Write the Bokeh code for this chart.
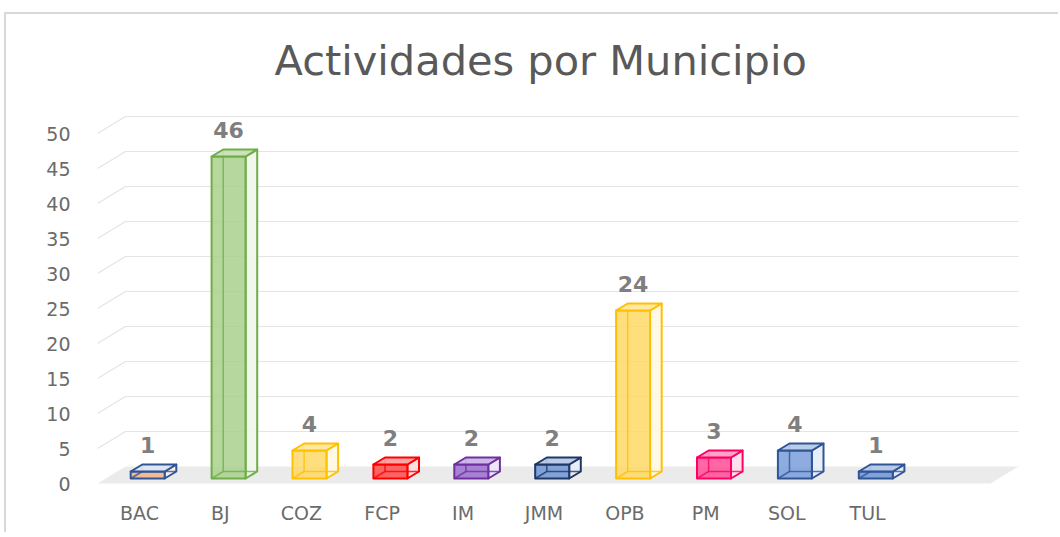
from bokeh.plotting import figure
from bokeh.models import FixedTicker, ColumnDataSource
from bokeh.embed import file_html
from bokeh.resources import INLINE
from bokeh.core.properties import value

# ---------------- data ----------------
title_text = "Actividades por Municipio"
categories = ["BAC", "BJ", "COZ", "FCP", "IM", "JMM", "OPB", "PM", "SOL", "TUL"]
counts = [1, 46, 4, 2, 2, 2, 24, 3, 4, 1]
y_ticks = [0, 5, 10, 15, 20, 25, 30, 35, 40, 45, 50]
fill_colors = ["#f4b183", "#a9d18e", "#ffd966", "#ff4b4b", "#9b6fcf",
               "#6f94d6", "#ffd966", "#ff4d94", "#7b9ddc", "#6f94d6"]
edge_colors = ["#2f5597", "#70ad47", "#ffc000", "#ff0000", "#7030a0",
               "#1f3864", "#ffc000", "#ff0066", "#2f5597", "#2f5597"]
top_colors = ["#dfe6f2", "#c5e0b4", "#ffe699", "#ff9a9a", "#c9b0e6",
              "#b4c7e7", "#ffe699", "#ff99c2", "#b4c7e7", "#b4c7e7"]

# ---------------- geometry (pixels) ----------------
OX, OY = 6, 14      # page position of the canvas origin (inside the chart border)
W, H = 1054, 520
PXX = 80.9          # px per category slot
PXY = 7.0           # px per unit of value
X0 = 139 - OX       # canvas x of category 0 (front floor plane)
Y0 = 483 - OY       # canvas y of value 0 (front floor plane)
FL, FR, FT, FB = 97 - OX, 1022 - OX, 100 - OY, 492 - OY   # frame edges on canvas

x_start = (FL - X0) / PXX
x_end = (FR - X0) / PXX
y_start = (Y0 - FB) / PXY
y_end = (Y0 - FT) / PXY

FDX, FDY = 28 / PXX, 17 / PXY      # floor depth
BOX, BOY = 8.2 / PXX, 5 / PXY      # bar front offset from floor front
BDX, BDY = 11.6 / PXX, 7 / PXY     # bar depth
BW = 34 / PXX                      # bar width

floor_l = x_start
floor_r = len(categories) + 0.52

p = figure(width=W, height=H, output_backend="svg", toolbar_location=None,
           x_range=(x_start, x_end), y_range=(y_start, y_end),
           min_border_left=FL, min_border_right=W - FR,
           min_border_top=FT, min_border_bottom=H - FB)
p.styles = {"border-top": "2px solid #d9d9d9", "border-left": "2px solid #d9d9d9",
            "border-right": "none", "border-bottom": "none",
            "margin-left": "4px", "margin-top": "12px"}
p.outline_line_color = None
p.background_fill_color = "white"
p.border_fill_color = "white"
p.xgrid.visible = False
p.ygrid.visible = False

# title
p.title.text = title_text
p.title.text_font = "DejaVu Sans"
p.title.text_font_size = "41.5px"
p.title.text_font_style = "normal"
p.title.text_color = "#595959"
p.title.align = "left"
p.title.offset = 177
p.title.standoff = 32

# floor
p.patch([floor_l, floor_l + FDX, floor_r + FDX, floor_r],
        [0, FDY, FDY, 0], fill_color="#ebebeb", line_color=None)

# back-wall / side-wall gridlines
gx, gy = [], []
for t in y_ticks[1:]:
    gx.append([floor_l, floor_l + FDX, floor_r + FDX])
    gy.append([t, t + FDY, t + FDY])
p.multi_line(gx, gy, line_color="#e4e4e4", line_width=1.2)

# axes
p.yaxis.ticker = FixedTicker(ticks=y_ticks)
p.yaxis.axis_line_color = None
p.yaxis.major_tick_line_color = None
p.yaxis.minor_tick_line_color = None
p.yaxis.major_tick_out = 0
p.yaxis.major_label_standoff = 27
p.yaxis.major_label_text_font = "DejaVu Sans"
p.yaxis.major_label_text_font_size = "19px"
p.yaxis.major_label_text_color = "#6b6b6b"

p.xaxis.ticker = FixedTicker(ticks=list(range(len(categories))))
p.xaxis.major_label_overrides = {i: c for i, c in enumerate(categories)}
p.xaxis.axis_line_color = None
p.xaxis.major_tick_line_color = None
p.xaxis.minor_tick_line_color = None
p.xaxis.major_tick_out = 0
p.xaxis.major_label_standoff = 9
p.xaxis.major_label_text_font = "DejaVu Sans"
p.xaxis.major_label_text_font_size = "19px"
p.xaxis.major_label_text_color = "#6b6b6b"

# bars (pseudo-3D)
side_colors = []
for c in fill_colors:
    r, g, b = int(c[1:3], 16), int(c[3:5], 16), int(c[5:7], 16)
    side_colors.append("#%02x%02x%02x" % tuple(int(v + (255 - v) * 0.82) for v in (r, g, b)))

fxs, fys, sxs, sys_, txs, tys, hxs, hys, lx, ly = [], [], [], [], [], [], [], [], [], []
for i, v in enumerate(counts):
    L = i + BOX - BW / 2
    R = i + BOX + BW / 2
    B = BOY
    T = BOY + v
    fxs.append([L, R, R, L]); fys.append([B, B, T, T])
    sxs.append([R, R + BDX, R + BDX, R]); sys_.append([B, B + BDY, T + BDY, T])
    txs.append([L, R, R + BDX, L + BDX]); tys.append([T, T, T + BDY, T + BDY])
    hxs.append([L, L + BDX, R + BDX]); hys.append([B, B + BDY, B + BDY])
    hxs.append([L + BDX, L + BDX]); hys.append([B + BDY, T + BDY])
    lx.append(i + BOX); ly.append(T + BDY)

hidden_colors = [c for c in edge_colors for _ in range(2)]

p.patches(sxs, sys_, fill_color=side_colors, fill_alpha=0.9,
          line_color=edge_colors, line_width=2, line_join="round")
p.patches(fxs, fys, fill_color=fill_colors, fill_alpha=0.85,
          line_color=edge_colors, line_width=2, line_join="round")
p.multi_line(hxs, hys, line_color=hidden_colors, line_width=1.5, line_alpha=0.8)
p.patches(txs, tys, fill_color=top_colors, fill_alpha=0.9,
          line_color=edge_colors, line_width=2, line_join="round")

src = ColumnDataSource(dict(x=lx, y=ly, t=[str(v) for v in counts]))
p.text(x="x", y="y", text="t", source=src, text_align="center", text_baseline="middle",
       y_offset=-20, text_font=value("DejaVu Sans"), text_font_size="22px",
       text_font_style="bold", text_color="#7f7f7f")

open("out.html", "w").write(file_html(p, INLINE))
